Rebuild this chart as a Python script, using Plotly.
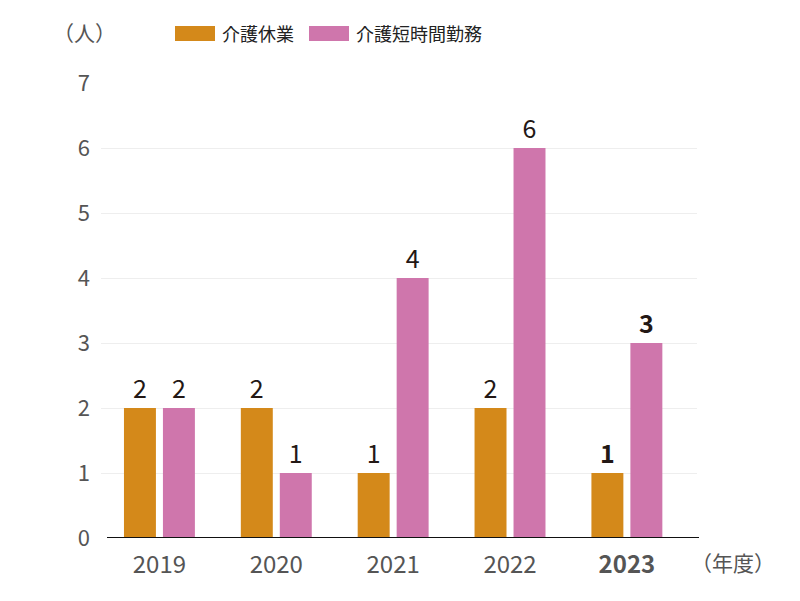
import plotly.graph_objects as go

years = ["2019", "2020", "2021", "2022", "2023"]
year_labels = ["2019", "2020", "2021", "2022", "<b>2023</b>"]
leave = [2, 2, 1, 2, 1]
short_hours = [2, 1, 4, 6, 3]
series_names = ["介護休業", "介護短時間勤務"]
colors = ["#D4891A", "#CF76AC"]

FONT = "Noto Sans CJK JP"

# page has an 8px body margin; figure is sized so the viewport matches
W, H = 792, 593
PL, PR, PT, PB = 101 - 8, 697 - 8, 83 - 8, 538 - 8   # plot area in figure px
PW, PH = PR - PL, PB - PT


def px_x(x):  # viewport px -> paper
    return (x - 8 - PL) / PW


def px_y(y):
    return (PB - (y - 8)) / PH


def labels(vals):
    return [f"<b>{v}</b>" if y == "2023" else str(v) for y, v in zip(years, vals)]


fig = go.Figure()
for name, vals, c in zip(series_names, [leave, short_hours], colors):
    fig.add_trace(go.Bar(
        x=years, y=vals, name=name, marker=dict(color=c, line=dict(width=0)),
        text=labels(vals), textposition="outside", cliponaxis=False,
        textfont=dict(family=FONT, size=25, color="#231815"),
        showlegend=False,
    ))

fig.update_layout(
    width=W, height=H,
    margin=dict(l=PL, r=W - PR, t=PT, b=H - PB, autoexpand=False),
    paper_bgcolor="white", plot_bgcolor="white",
    barmode="group", bargap=0.333, bargroupgap=0.18,
    font=dict(family=FONT, color="#555555"),
    xaxis=dict(
        type="category", range=[-0.5, 4.6],
        tickmode="array", tickvals=years, ticktext=year_labels,
        tickfont=dict(size=24, color="#555555"), ticklabelstandoff=10,
        showline=False, ticks="", showgrid=False, zeroline=False,
    ),
    yaxis=dict(
        range=[0, 7], dtick=1, tickfont=dict(size=22, color="#555555"),
        ticklabelstandoff=10,
        showgrid=True, gridcolor="#EEEEEE", gridwidth=1,
        zeroline=False, ticks="", showline=False,
    ),
)

# baseline axis line
fig.add_shape(type="line", xref="paper", yref="y",
              x0=px_x(107), x1=px_x(699), y0=0, y1=0,
              line=dict(color="#111111", width=2))

# unit labels
fig.add_annotation(text="（人）", xref="paper", yref="paper", x=px_x(84), y=px_y(32),
                   xanchor="center", yanchor="middle", showarrow=False,
                   font=dict(family=FONT, size=21, color="#555555"))
fig.add_annotation(text="（年度）", xref="paper", yref="paper", x=px_x(733), y=px_y(562),
                   xanchor="center", yanchor="middle", showarrow=False,
                   font=dict(family=FONT, size=21, color="#555555"))

# legend drawn manually
leg_x = [175, 309]
for x0, name, c in zip(leg_x, series_names, colors):
    fig.add_shape(type="rect", xref="paper", yref="paper",
                  x0=px_x(x0), x1=px_x(x0 + 40), y0=px_y(41), y1=px_y(26),
                  line=dict(width=0), fillcolor=c)
    fig.add_annotation(text=name, xref="paper", yref="paper",
                       x=px_x(x0 + 45), y=px_y(33),
                       xanchor="left", yanchor="middle", showarrow=False,
                       font=dict(family=FONT, size=18, color="#222222"))

fig.write_html("out.html")
